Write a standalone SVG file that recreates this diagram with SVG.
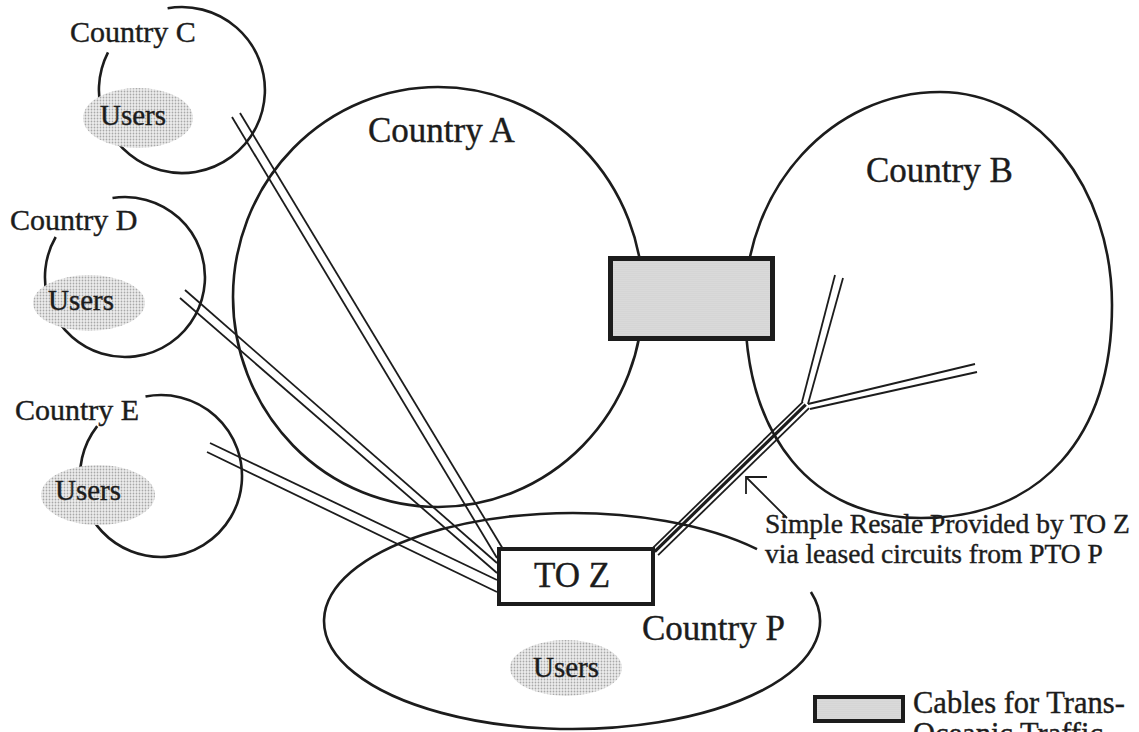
<svg xmlns="http://www.w3.org/2000/svg" width="1139" height="732" viewBox="0 0 1139 732">
  <defs>
    <!-- halftone fill used for the user clouds -->
    <pattern id="stipple" width="3" height="3" patternUnits="userSpaceOnUse">
      <rect width="3" height="3" fill="#eeeeee"/>
      <circle cx="1.5" cy="1.5" r="0.9" fill="#a8a8a8"/>
    </pattern>
    <!-- finer halftone for the cable symbol -->
    <pattern id="fine" width="2" height="2" patternUnits="userSpaceOnUse">
      <rect width="2" height="2" fill="#e2e2e2"/>
      <circle cx="1" cy="1" r="0.55" fill="#b0b0b0"/>
    </pattern>
    <style>
      .outline { fill: none; stroke: #1c1c1c; stroke-width: 2.6; }
      .cable { fill: none; stroke: #1c1c1c; stroke-width: 1.8; }
      .heavy { fill: none; stroke: #1c1c1c; stroke-width: 3.2; }
      .users { fill: url(#stipple); stroke: none; }
      .lbl { font-family: "Liberation Serif", "Times New Roman", serif; fill: #1c1c1c; stroke: #1c1c1c; stroke-width: 0.4; }
      .big { font-size: 35px; }
      .mid { font-size: 30px; }
      .usr { font-size: 29px; }
      .note { font-size: 27.5px; }
      .key { font-size: 30.5px; }
    </style>
  </defs>

  <rect width="1139" height="732" fill="#ffffff"/>

  <!-- country boundaries -->
  <g id="country-a">
    <ellipse class="outline" cx="438" cy="297" rx="205" ry="210"/>
    <text class="lbl big" x="368" y="142">Country A</text>
  </g>
  <g id="country-b">
    <!-- hand-drawn oval, flatter towards the bottom -->
    <path class="outline" d="M 745 305 C 745 187.4 832.4 92 940 92 C 1036.6 92 1112 187.4 1112 305 C 1112 437 1041 518 921 518 C 812 518 745 437 745 305 Z"/>
    <text class="lbl big" x="866" y="182">Country B</text>
  </g>
  <g id="country-c">
    <path class="outline" d="M 167.6 8.3 A 83 83 0 1 1 108 52.3"/>
    <ellipse class="users" cx="138" cy="118" rx="55" ry="30"/>
    <text class="lbl mid" x="70" y="42">Country C</text>
    <text class="lbl usr" x="100" y="125">Users</text>
  </g>
  <g id="country-d">
    <path class="outline" d="M 112.5 198 A 80 80 0 1 1 55.7 237"/>
    <ellipse class="users" cx="89" cy="303" rx="56" ry="28"/>
    <text class="lbl mid" x="10" y="230">Country D</text>
    <text class="lbl usr" x="48" y="310">Users</text>
  </g>
  <g id="country-e">
    <path class="outline" d="M 145.5 396.5 A 81 81 0 1 1 97.2 426.1"/>
    <ellipse class="users" cx="98" cy="495" rx="57" ry="30"/>
    <text class="lbl mid" x="15" y="420">Country E</text>
    <text class="lbl usr" x="55" y="500">Users</text>
  </g>
  <g id="country-p">
    <path class="outline" d="M 810.9 592 A 248 108 0 1 1 757 549.1"/>
    <ellipse class="users" cx="566" cy="668" rx="56" ry="28"/>
    <text class="lbl big" x="642" y="640">Country P</text>
    <text class="lbl usr" x="533" y="677">Users</text>
  </g>

  <!-- cables -->
  <g id="connectors">
    <!-- C to TO Z -->
    <line class="cable" x1="232" y1="117" x2="497" y2="558"/>
    <line class="cable" x1="240" y1="113" x2="503" y2="549"/>
    <!-- D to TO Z -->
    <line class="cable" x1="185" y1="290" x2="497" y2="563"/>
    <line class="cable" x1="180" y1="298" x2="497" y2="573"/>
    <!-- E to TO Z -->
    <line class="cable" x1="210" y1="443" x2="497" y2="580"/>
    <line class="cable" x1="207" y1="452" x2="497" y2="592"/>
    <!-- leased circuit from TO Z towards B -->
    <line class="cable" x1="651.9" y1="548.8" x2="802.9" y2="401.8"/>
    <line class="heavy" x1="654.7" y1="551.6" x2="805.7" y2="404.6"/>
    <line class="cable" x1="658.1" y1="555.2" x2="809.1" y2="408.2"/>
    <!-- branches inside B -->
    <line class="cable" x1="802" y1="402" x2="835" y2="275"/>
    <line class="cable" x1="808" y1="404" x2="843" y2="278"/>
    <line class="cable" x1="808" y1="404" x2="975" y2="364"/>
    <line class="cable" x1="810" y1="409" x2="977" y2="372"/>
    <!-- pointer to the leased circuit -->
    <path class="cable" d="M 787 518 L 746 477 M 767 477 L 746 477 L 746 494"/>
  </g>

  <!-- trans-oceanic cable block between A and B -->
  <g id="cable-block">
    <rect x="610.5" y="258.5" width="162" height="80" fill="url(#fine)" stroke="#1c1c1c" stroke-width="5"/>
  </g>

  <g id="to-z">
    <rect x="499" y="549" width="154" height="55" fill="#ffffff" stroke="#1c1c1c" stroke-width="4"/>
    <text class="lbl big" x="534" y="587" font-size="36">TO Z</text>
  </g>

  <g id="annotation">
    <text class="lbl note" x="765" y="533">Simple Resale Provided by TO Z</text>
    <text class="lbl note" x="765" y="563">via leased circuits from PTO P</text>
  </g>

  <g id="legend">
    <rect x="815" y="697" width="88" height="24" fill="url(#fine)" stroke="#1c1c1c" stroke-width="4"/>
    <text class="lbl key" x="913" y="713">Cables for Trans-</text>
    <text class="lbl key" x="913" y="744">Oceanic Traffic</text>
  </g>
</svg>
